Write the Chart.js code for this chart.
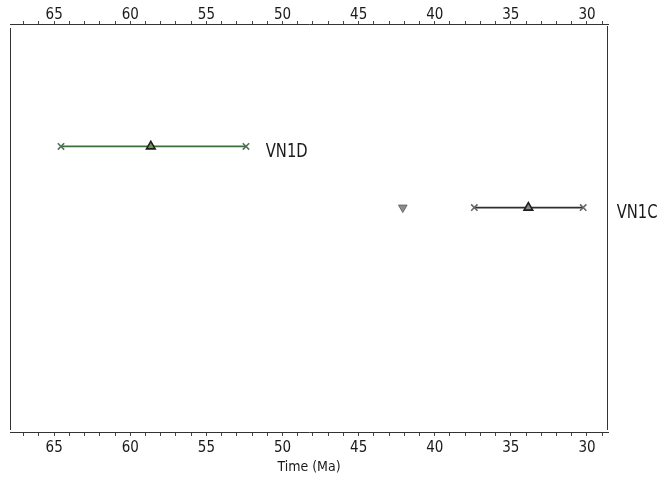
<!DOCTYPE html>
<html>
<head>
<meta charset="utf-8">
<script src="https://cdn.jsdelivr.net/npm/chart.js@4"></script>
<style>
  html, body { margin: 0; padding: 0; background: #fff; }
  #wrap { width: 665px; height: 477px; position: relative; }
</style>
</head>
<body>
<div id="wrap"><canvas id="chart"></canvas></div>
<script>
  // values (Ma)
  var zoneNames = ["VN1D", "VN1C"];
  var zoneRows = [7, 5.5];
  var rangeStart = [64.55, 37.4];
  var rangeEnd = [52.4, 30.25];
  var meanAge = [58.65, 33.85];
  var outlierAge = [null, 42.1];
  var labelAge = [51.1, 28.05];
  var axisMin = 28.62;
  var axisMax = 67.9;
  var labelStep = 5;

  var FONT = "'DejaVu Sans Condensed', 'Liberation Sans Narrow', sans-serif";
  var lineColors = ["#3d6e3d", "#2f2f2f"];
  var crossColors = ["#56705a", "#666"];
  var meanFill = ["#6f9a4a", "#8a8a8a"];

  var datasets = [];
  zoneNames.forEach(function (name, i) {
    datasets.push({
      label: name + " range",
      type: "line",
      data: [{ x: rangeStart[i], y: zoneRows[i] }, { x: rangeEnd[i], y: zoneRows[i] }],
      borderColor: lineColors[i],
      borderWidth: 1.6,
      pointStyle: "crossRot",
      pointRadius: 4.5,
      pointBorderColor: crossColors[i],
      pointBorderWidth: 1.6,
      fill: false,
      order: 2
    });
    datasets.push({
      label: name + " mean",
      type: "scatter",
      data: [{ x: meanAge[i], y: zoneRows[i] }],
      pointStyle: "triangle",
      pointRadius: 5,
      backgroundColor: meanFill[i],
      borderColor: "#1e1e1e",
      borderWidth: 1.6,
      order: 1
    });
    if (outlierAge[i] != null) {
      datasets.push({
        label: name + " other",
        type: "scatter",
        data: [{ x: outlierAge[i], y: zoneRows[i] }],
        pointStyle: "triangle",
        rotation: 180,
        pointRadius: 5,
        backgroundColor: "#8c8c8c",
        borderColor: "#6b6b6b",
        borderWidth: 1,
        order: 1
      });
    }
  });

  function integerTicks(scale) {
    var t = [];
    for (var v = Math.ceil(axisMin); v <= Math.floor(axisMax); v++) t.push({ value: v });
    scale.ticks = t;
  }

  function tickLabel(v) {
    return v % labelStep === 0 ? String(v) : "";
  }

  var framePlugin = {
    id: "frame",
    afterDraw: function (chart) {
      var ctx = chart.ctx, a = chart.chartArea;
      ctx.save();
      ctx.strokeStyle = "#333";
      ctx.lineWidth = 1;
      ctx.beginPath();
      ctx.moveTo(a.left + 0.5, a.top + 4);
      ctx.lineTo(a.left + 0.5, a.bottom - 2);
      ctx.moveTo(a.right - 0.5, a.top + 2);
      ctx.lineTo(a.right - 0.5, a.bottom - 2);
      ctx.stroke();
      // zone names, drawn a little condensed like the original
      var xs = chart.scales.x, ys = chart.scales.y;
      ctx.fillStyle = "#1a1a1a";
      ctx.font = "20px " + FONT;
      ctx.textBaseline = "middle";
      ctx.textAlign = "left";
      zoneNames.forEach(function (name, i) {
        ctx.save();
        ctx.translate(xs.getPixelForValue(labelAge[i]), ys.getPixelForValue(zoneRows[i]) + 5);
        ctx.scale(0.82, 1);
        ctx.fillText(name, 0, 0);
        ctx.restore();
      });
      ctx.restore();
    }
  };

  new Chart(document.getElementById("chart"), {
    type: "scatter",
    data: { datasets: datasets },
    plugins: [framePlugin],
    options: {
      responsive: true,
      maintainAspectRatio: false,
      animation: false,
      layout: { padding: { left: 10, right: 57, top: 0, bottom: 0 } },
      plugins: { legend: { display: false }, tooltip: { enabled: false } },
      scales: {
        x: {
          type: "linear",
          position: "bottom",
          reverse: true,
          min: axisMin,
          max: axisMax,
          afterBuildTicks: integerTicks,
          afterFit: function (s) { s.height = 45; },
          grid: { drawOnChartArea: false, tickLength: 4, color: "#444" },
          border: { color: "#333", width: 1 },
          ticks: {
            autoSkip: false,
            maxRotation: 0,
            padding: 3,
            color: "#1a1a1a",
            font: { family: FONT, size: 15 },
            callback: tickLabel
          },
          title: {
            display: true,
            text: "Time (Ma)",
            color: "#1a1a1a",
            font: { family: FONT, size: 14 },
            padding: { top: 0, bottom: 1 }
          }
        },
        x2: {
          type: "linear",
          position: "top",
          reverse: true,
          min: axisMin,
          max: axisMax,
          afterBuildTicks: integerTicks,
          afterFit: function (s) { s.height = 24; },
          grid: { drawOnChartArea: false, tickLength: 3, color: "#444" },
          border: { color: "#333", width: 1 },
          ticks: {
            autoSkip: false,
            maxRotation: 0,
            padding: -3,
            color: "#1a1a1a",
            font: { family: FONT, size: 15 },
            callback: tickLabel
          }
        },
        y: {
          type: "linear",
          display: false,
          min: 0,
          max: 10
        }
      }
    }
  });
</script>
</body>
</html>
